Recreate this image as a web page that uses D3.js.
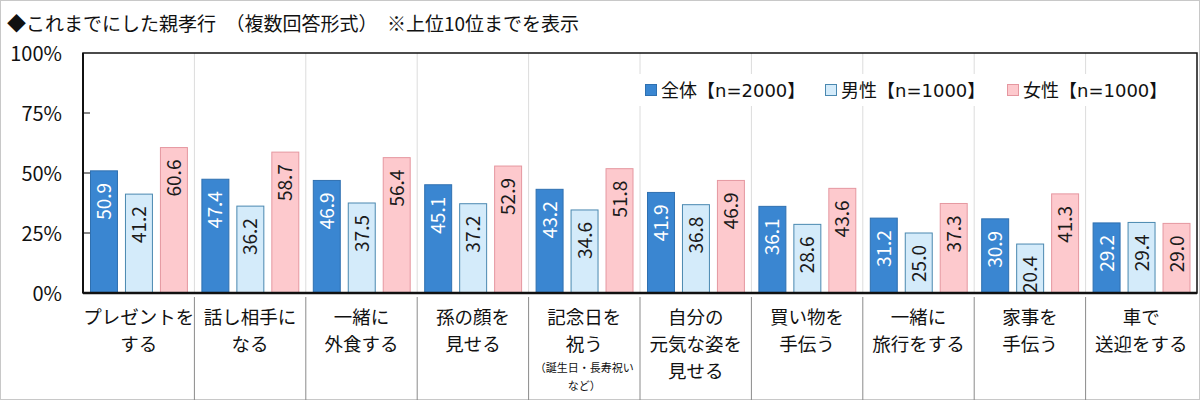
<!DOCTYPE html>
<html><head><meta charset="utf-8">
<script src="https://cdn.jsdelivr.net/npm/d3@7"></script>
<style>
html,body{margin:0;padding:0;background:#fff;}
svg{display:block;}
text{font-family:"Noto Sans CJK JP","DejaVu Sans",sans-serif;}
</style></head>
<body>
<svg id="chart" width="1200" height="400"></svg>
<script>
const title = "◆これまでにした親孝行　（複数回答形式）　※上位10位までを表示";
const categories = [
  ["プレゼントを","する"],
  ["話し相手に","なる"],
  ["一緒に","外食する"],
  ["孫の顔を","見せる"],
  ["記念日を","祝う"],
  ["自分の","元気な姿を","見せる"],
  ["買い物を","手伝う"],
  ["一緒に","旅行をする"],
  ["家事を","手伝う"],
  ["車で","送迎をする"]
];
const subNotes = [null,null,null,null,["（誕生日・長寿祝い","など）"],null,null,null,null,null];
const seriesNames = ["全体","男性","女性"];
const seriesN = ["n=2000","n=1000","n=1000"];
const allValues  = [50.9,47.4,46.9,45.1,43.2,41.9,36.1,31.2,30.9,29.2];
const maleValues = [41.2,36.2,37.5,37.2,34.6,36.8,28.6,25.0,20.4,29.4];
const femaleValues=[60.6,58.7,56.4,52.9,51.8,46.9,43.6,37.3,41.3,29.0];
const yTicks = [0,25,50,75,100];

const series = [allValues, maleValues, femaleValues];
const fills   = ["#3a86d1","#d4ebfa","#fdc9cd"];
const strokes = ["#2f70b0","#4a88b0","#e597a0"];
const labelColors = ["#ffffff","#1a1a1a","#1a1a1a"];

const svg = d3.select("#chart");
const L = 83, R = 1197, T = 53, B = 293;

// outer border
svg.append("rect").attr("x",0.5).attr("y",0.5).attr("width",1199).attr("height",399)
  .attr("fill","none").attr("stroke","#c8c8c8");

svg.append("text").attr("x",7).attr("y",31).attr("font-size",19).attr("fill","#111").text(title);

const x0 = d3.scaleBand().domain(d3.range(categories.length)).range([L,R]).padding(0);
const x1 = d3.scaleBand().domain([0,1,2]).range([7, x0.bandwidth()-6.5]).paddingInner(0.2).paddingOuter(0);
const y = d3.scaleLinear().domain([0,100]).range([B,T]);

// vertical gridlines
svg.append("g").selectAll("line").data(d3.range(1,categories.length)).join("line")
  .attr("x1",d=>x0(d)).attr("x2",d=>x0(d)).attr("y1",T).attr("y2",B)
  .attr("stroke","#dcdcdc").attr("stroke-width",1);

// separators below axis
svg.append("g").selectAll("line").data(d3.range(1,categories.length)).join("line")
  .attr("x1",d=>x0(d)).attr("x2",d=>x0(d)).attr("y1",B+4).attr("y2",400)
  .attr("stroke","#8a8a8a").attr("stroke-width",1);

// legend background
svg.append("rect").attr("x",636).attr("y",74).attr("width",536).attr("height",32).attr("fill","#fff");

// bars
series.forEach((vals,si)=>{
  const g = svg.append("g");
  g.selectAll("rect").data(vals).join("rect")
    .attr("x",(d,i)=>x0(i)+x1(si)+0.5)
    .attr("y",d=>y(d))
    .attr("width",x1.bandwidth()-1)
    .attr("height",d=>B-y(d))
    .attr("fill",fills[si]).attr("stroke",strokes[si]).attr("stroke-width",1);
  g.selectAll("text").data(vals).join("text")
    .attr("transform",(d,i)=>`translate(${x0(i)+x1(si)+x1.bandwidth()/2+7},${y(d)+12}) rotate(-90)`)
    .attr("text-anchor","end")
    .attr("font-family","DejaVu Sans, sans-serif")
    .attr("font-size",19).attr("fill",labelColors[si])
    .text(d=>d.toFixed(1));
});

// frame
svg.append("rect").attr("x",L).attr("y",T).attr("width",R-L).attr("height",B-T)
  .attr("fill","none").attr("stroke","#111").attr("stroke-width",1.5);
svg.append("line").attr("x1",L).attr("x2",R).attr("y1",B).attr("y2",B).attr("stroke","#111").attr("stroke-width",2.5);
svg.append("line").attr("x1",L).attr("x2",L).attr("y1",T).attr("y2",B).attr("stroke","#111").attr("stroke-width",2);

// y axis
const yAxis = d3.axisLeft(y).tickValues(yTicks).tickSize(0).tickPadding(0).tickFormat(d=>d+"%");
const ya = svg.append("g").attr("transform",`translate(${L-21},0)`).call(yAxis);
ya.select(".domain").remove();
ya.selectAll("text").attr("font-family","DejaVu Sans, sans-serif").attr("font-size",20).attr("fill","#111").attr("dy","0.35em");
// inward ticks
svg.append("g").selectAll("line").data(yTicks.filter(d=>d>0&&d<100)).join("line")
  .attr("x1",L).attr("x2",L+7).attr("y1",d=>y(d)).attr("y2",d=>y(d)).attr("stroke","#111").attr("stroke-width",1);

// x labels
const xl = svg.append("g");
categories.forEach((lines,i)=>{
  const cx = x0(i)+x0.bandwidth()/2;
  lines.forEach((t,j)=>{
    xl.append("text").attr("x",cx).attr("y",324+j*27).attr("text-anchor","middle")
      .attr("font-size",18.5).attr("fill","#111").text(t);
  });
  if(subNotes[i]){
    subNotes[i].forEach((t,j)=>{
      xl.append("text").attr("x",cx).attr("y",372+j*18).attr("text-anchor","middle")
        .attr("font-size",11).attr("fill","#111").text(t);
    });
  }
});

// legend
const legX = [645,825,1007];
seriesNames.forEach((n,i)=>{
  svg.append("rect").attr("x",legX[i]+0.5).attr("y",84.5).attr("width",11).attr("height",11)
    .attr("fill",fills[i]).attr("stroke",strokes[i]);
  const t = svg.append("text").attr("x",legX[i]+16).attr("y",97).attr("font-size",18).attr("fill","#111");
  t.append("tspan").text(n+"【");
  t.append("tspan").attr("font-family","DejaVu Sans, sans-serif").text(seriesN[i]);
  t.append("tspan").text("】");
});
</script>
</body></html>
